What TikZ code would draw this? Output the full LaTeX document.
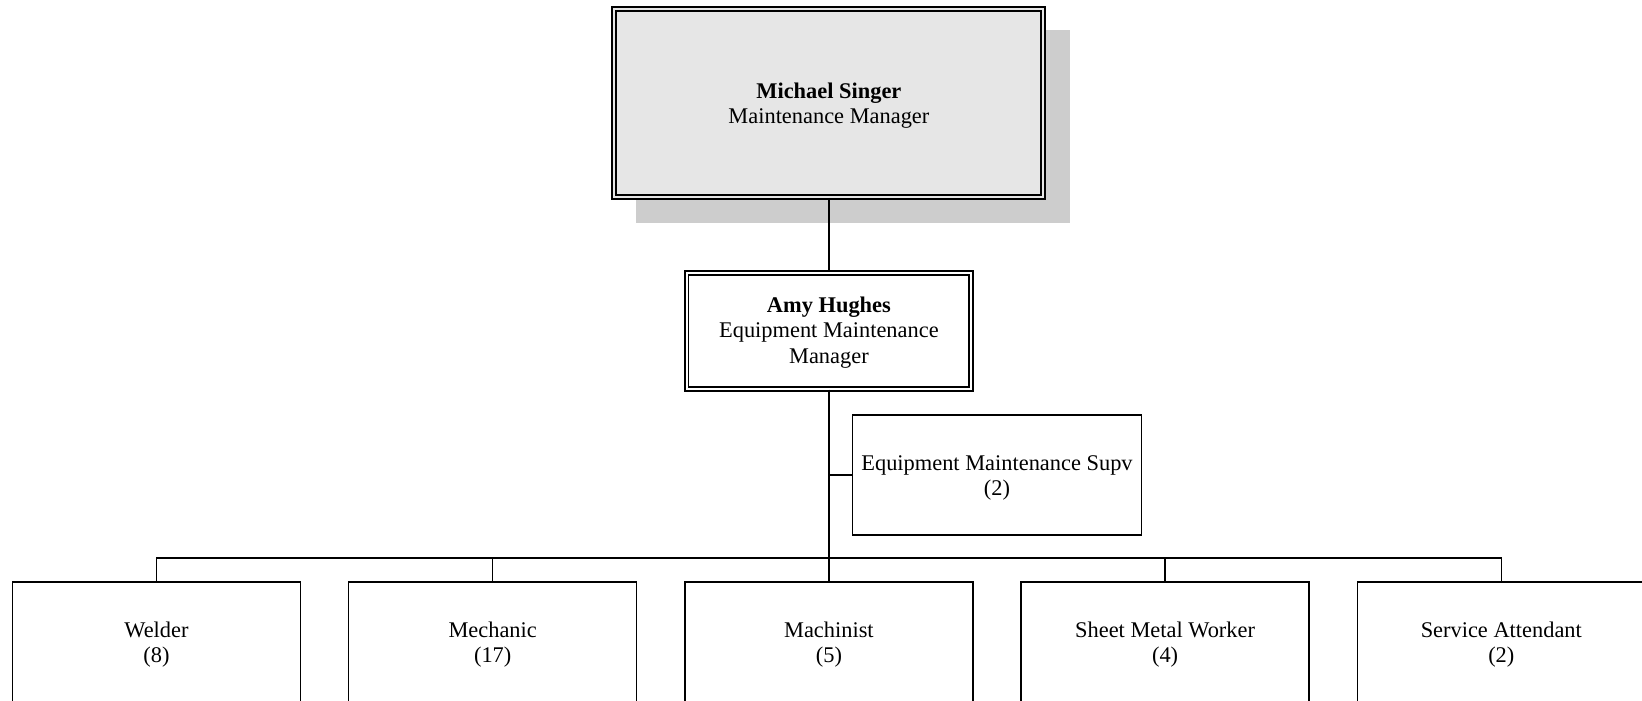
\documentclass[tikz,border=0pt]{standalone}
\usepackage{fontspec}
\setmainfont{Liberation Serif}
\definecolor{mgrfill}{HTML}{E6E6E6}
\definecolor{shadowgray}{HTML}{CDCDCD}
\newcommand\topgap{\rule{0pt}{21pt}}
\begin{document}
\begin{tikzpicture}[x=1pt,y=-1pt,
  every node/.style={font=\fontsize{22.4}{25.5}\selectfont, align=center, inner sep=0pt},
  link/.style={line width=1.5pt},
  mgrbox/.style={draw, line width=2pt, double=mgrfill, double distance=2pt, fill=mgrfill, minimum width=429pt, minimum height=188.3pt},
  leadbox/.style={draw, line width=1.8pt, double=white, double distance=2pt, fill=white, minimum width=284.5pt, minimum height=115.6pt},
  unitbox/.style={draw, line width=1.5pt, fill=white, minimum width=288pt, minimum height=120pt}
]
\useasboundingbox (0,0) rectangle (1642,701);
\clip (0,0) rectangle (1642,701);
% shadow of top box
\fill[shadowgray] (636,30) rectangle (1070,223.3);
\node[mgrbox] (ms) at (828.9,102.7) {\topgap\textbf{Michael Singer}\\Maintenance Manager};
\node[leadbox] (amy) at (828.9,331) {\rule{0pt}{18pt}\textbf{Amy Hughes}\\Equipment Maintenance\\Manager};
\node[unitbox, minimum width=288.6pt] (supv) at (997,475) {\topgap Equipment Maintenance Supv\\(2)};
\node[unitbox] (weld) at (156.5,642) {\topgap Welder\\(8)};
\node[unitbox] (mech) at (492.7,642) {\topgap Mechanic\\(17)};
\node[unitbox] (mach) at (828.9,642) {\topgap Machinist\\(5)};
\node[unitbox] (sheet) at (1165.1,642) {\topgap Sheet Metal Worker\\(4)};
\node[unitbox] (serv) at (1501.3,642) {\topgap Service Attendant\\(2)};
\coordinate (bus) at (828.9,558);
\draw[link] (ms.south) -- (amy.north);
\draw[link] (amy.south) -- (mach.north);
\draw[link] (supv.west) -- (supv.west -| amy.south);
\draw[link] (weld.north) |- (bus) -| (serv.north);
\draw[link] (mech.north) |- (bus);
\draw[link] (sheet.north) |- (bus);
\end{tikzpicture}
\end{document}
